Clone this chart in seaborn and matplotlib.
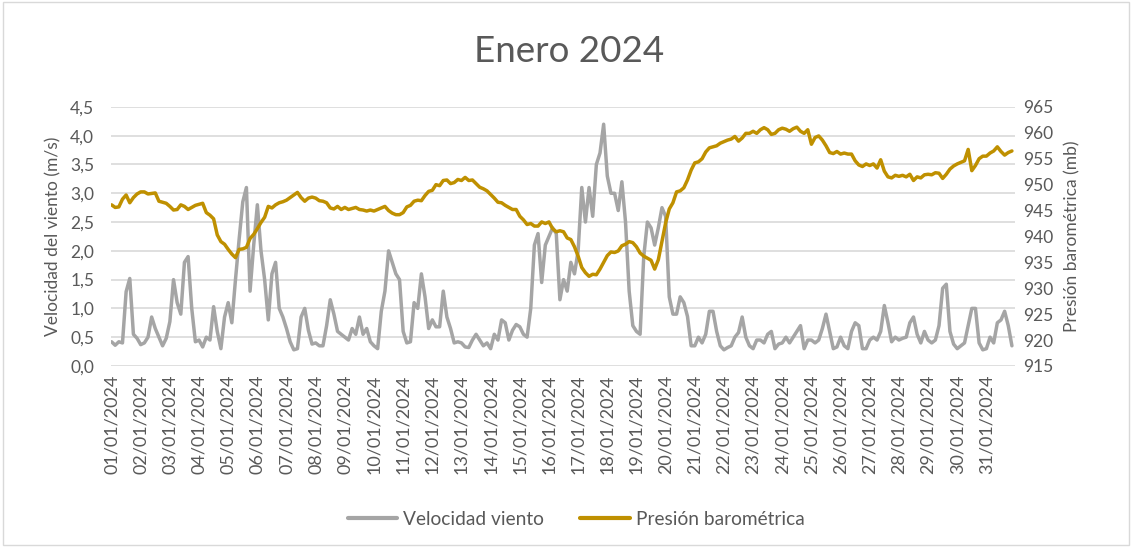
import pandas as pd
import numpy as np
import matplotlib
matplotlib.use("Agg")
import matplotlib.pyplot as plt
import seaborn as sns
from matplotlib.lines import Line2D
from matplotlib.patches import Rectangle
from matplotlib.ticker import FuncFormatter, MultipleLocator

# lecturas cada 3 horas, enero 2024 (8 por día)
viento = [
    0.42, 0.36, 0.42, 0.40, 1.29, 1.52, 0.55, 0.48,   # 01
    0.37, 0.40, 0.50, 0.85, 0.65, 0.50, 0.35, 0.48,   # 02
    0.77, 1.50, 1.10, 0.90, 1.80, 1.90, 1.00, 0.42,   # 03
    0.45, 0.33, 0.50, 0.45, 1.03, 0.60, 0.30, 0.85,   # 04
    1.10, 0.75, 1.50, 2.20, 2.85, 3.10, 1.30, 2.10,   # 05
    2.80, 2.00, 1.50, 0.80, 1.60, 1.80, 1.00, 0.85,   # 06
    0.65, 0.42, 0.28, 0.30, 0.85, 1.00, 0.62, 0.38,   # 07
    0.40, 0.35, 0.35, 0.70, 1.15, 0.90, 0.60, 0.55,   # 08
    0.50, 0.45, 0.65, 0.55, 0.85, 0.55, 0.65, 0.42,   # 09
    0.35, 0.30, 0.95, 1.30, 2.00, 1.80, 1.60, 1.50,   # 10
    0.60, 0.40, 0.42, 1.10, 1.00, 1.60, 1.20, 0.65,   # 11
    0.80, 0.68, 0.68, 1.30, 0.85, 0.65, 0.40, 0.42,   # 12
    0.40, 0.33, 0.32, 0.45, 0.55, 0.45, 0.35, 0.40,   # 13
    0.30, 0.55, 0.45, 0.80, 0.75, 0.45, 0.62, 0.72,   # 14
    0.68, 0.55, 0.50, 1.00, 2.10, 2.30, 1.45, 2.10,   # 15
    2.25, 2.40, 2.30, 1.15, 1.50, 1.30, 1.80, 1.60,   # 16
    2.00, 3.10, 2.50, 3.10, 2.60, 3.50, 3.70, 4.20,   # 17
    3.30, 3.00, 3.00, 2.70, 3.20, 2.50, 1.30, 0.70,   # 18
    0.60, 0.55, 1.90, 2.50, 2.40, 2.10, 2.40, 2.75,   # 19
    2.60, 1.20, 0.90, 0.90, 1.20, 1.10, 0.86, 0.35,   # 20
    0.35, 0.50, 0.40, 0.55, 0.95, 0.95, 0.60, 0.35,   # 21
    0.28, 0.32, 0.35, 0.50, 0.58, 0.85, 0.50, 0.35,   # 22
    0.30, 0.45, 0.45, 0.40, 0.55, 0.60, 0.30, 0.38,   # 23
    0.40, 0.50, 0.40, 0.50, 0.60, 0.70, 0.30, 0.45,   # 24
    0.45, 0.40, 0.45, 0.65, 0.90, 0.60, 0.30, 0.33,   # 25
    0.50, 0.35, 0.30, 0.60, 0.75, 0.70, 0.30, 0.30,   # 26
    0.45, 0.50, 0.45, 0.60, 1.05, 0.75, 0.42, 0.50,   # 27
    0.45, 0.48, 0.50, 0.75, 0.85, 0.55, 0.40, 0.60,   # 28
    0.45, 0.40, 0.45, 0.70, 1.35, 1.42, 0.60, 0.38,   # 29
    0.30, 0.35, 0.40, 0.70, 1.00, 1.00, 0.40, 0.28,   # 30
    0.30, 0.50, 0.40, 0.75, 0.80, 0.95, 0.70, 0.35,   # 31
]

presion = [
    946.1, 945.6, 945.7, 947.2, 948.0, 946.5, 947.5, 948.2,   # 01
    948.6, 948.6, 948.2, 948.3, 948.4, 946.8, 946.6, 946.4,   # 02
    945.8, 945.1, 945.2, 946.1, 945.8, 945.2, 945.6, 946.0,   # 03
    946.2, 946.4, 944.6, 944.1, 943.4, 940.3, 939.0, 938.5,   # 04
    937.5, 936.6, 935.9, 937.5, 937.6, 937.9, 939.6, 940.4,   # 05
    941.5, 942.7, 943.7, 945.8, 945.5, 946.1, 946.5, 946.7,   # 06
    947.0, 947.5, 948.0, 948.5, 947.5, 946.8, 947.4, 947.6,   # 07
    947.4, 946.9, 946.8, 946.5, 945.5, 945.3, 945.8, 945.2,   # 08
    945.6, 945.2, 945.4, 945.6, 945.2, 945.1, 944.9, 945.1,   # 09
    944.9, 945.2, 945.5, 945.8, 945.0, 944.5, 944.2, 944.2,   # 10
    944.6, 945.7, 946.0, 946.8, 947.0, 946.9, 947.9, 948.7,   # 11
    948.9, 950.0, 949.8, 950.8, 950.9, 950.2, 950.4, 951.0,   # 12
    950.8, 951.4, 950.8, 950.9, 950.2, 949.5, 949.2, 948.8,   # 13
    948.1, 947.4, 946.6, 946.5, 946.0, 945.6, 945.2, 945.2,   # 14
    943.9, 943.2, 942.3, 942.5, 942.0, 942.0, 942.8, 942.5,   # 15
    942.8, 941.5, 940.9, 941.1, 940.9, 939.7, 939.4, 938.0,   # 16
    936.2, 934.0, 933.0, 932.3, 932.7, 932.6, 933.7, 935.0,   # 17
    936.3, 937.0, 936.9, 937.2, 938.2, 938.5, 939.0, 938.8,   # 18
    938.0, 936.8, 936.2, 935.8, 935.4, 933.7, 935.5, 939.0,   # 19
    942.6, 945.3, 946.5, 948.6, 948.8, 949.4, 950.9, 952.8,   # 20
    954.2, 954.4, 955.0, 956.3, 957.1, 957.3, 957.5, 958.0,   # 21
    958.3, 958.6, 958.8, 959.3, 958.4, 959.0, 959.9, 959.9,   # 22
    960.3, 959.9, 960.6, 961.0, 960.6, 959.7, 959.9, 960.6,   # 23
    960.9, 960.7, 960.3, 960.8, 961.1, 960.3, 959.9, 960.6,   # 24
    957.8, 959.1, 959.4, 958.6, 957.5, 956.2, 956.0, 956.4,   # 25
    955.9, 956.1, 955.9, 955.9, 954.6, 953.8, 953.5, 954.0,   # 26
    953.7, 954.0, 953.2, 954.8, 952.6, 951.5, 951.3, 951.8,   # 27
    951.6, 951.8, 951.5, 952.0, 950.8, 951.5, 951.3, 951.9,   # 28
    952.0, 951.9, 952.3, 952.2, 951.2, 952.0, 953.0, 953.6,   # 29
    954.0, 954.3, 954.6, 956.8, 952.7, 953.7, 955.0, 955.5,   # 30
    955.5, 956.1, 956.5, 957.3, 956.4, 955.7, 956.2, 956.5,   # 31
]

dias = [f"{d:02d}/01/2024" for d in range(1, 32)]

horas = np.arange(len(viento)) * 3
df = pd.DataFrame({"hora": horas, "viento": viento, "presion": presion})

gris = "#a5a5a5"
dorado = "#bf9000"
texto = "#595959"

sns.set_theme(style="white")
plt.rcParams["font.family"] = ["Lato", "DejaVu Sans"]

fig = plt.figure(figsize=(11.32, 5.47), dpi=100)
ax = fig.add_axes([0.098, 0.331, 0.7986, 0.4735])
ax2 = ax.twinx()

sns.lineplot(data=df, x="hora", y="viento", ax=ax, color=gris, linewidth=2.5)
sns.lineplot(data=df, x="hora", y="presion", ax=ax2, color=dorado, linewidth=2.5)

ax.set_xlim(-0.5, 743.5)
ax.set_ylim(0, 4.5)
ax2.set_ylim(915, 965)
ax.yaxis.set_major_locator(MultipleLocator(0.5))
ax2.yaxis.set_major_locator(MultipleLocator(5))
ax.yaxis.set_major_formatter(FuncFormatter(lambda v, p: f"{v:.1f}".replace(".", ",")))

ax.set_xticks(np.arange(31) * 24)
ax.set_xticklabels(dias, rotation=90, fontsize=13, color=texto)
ax.tick_params(axis="y", labelsize=12.5, labelcolor=texto, length=0, pad=12)
ax2.tick_params(axis="y", labelsize=12.5, labelcolor=texto, length=0, pad=6)
ax.tick_params(axis="x", length=0, pad=6)

ax.grid(axis="y", color="#d9d9d9", linewidth=1.2)
ax.grid(axis="x", visible=False)
for a in (ax, ax2):
    for s in a.spines.values():
        s.set_visible(False)

ax.set_xlabel("")
ax.set_ylabel("Velocidad del viento (m/s)", fontsize=12.5, color=texto, labelpad=6)
ax2.set_ylabel("Presión barométrica (mb)", fontsize=12.5, color=texto, labelpad=8)

fig.suptitle("Enero 2024", x=0.503, y=0.905, va="center", fontsize=26.5, color=texto)

handles = [Line2D([], [], color=gris, linewidth=3),
           Line2D([], [], color=dorado, linewidth=3)]
fig.legend(handles, ["Velocidad viento", "Presión barométrica"],
           loc="center", bbox_to_anchor=(0.509, 0.05), ncol=2, frameon=False,
           fontsize=13.8, labelcolor=texto, handlelength=2.6, handletextpad=0.3,
           columnspacing=1.9)

fig.patches.append(Rectangle((0.003, 0.003), 0.994, 0.994, transform=fig.transFigure,
                             fill=False, edgecolor="#d9d9d9", linewidth=1))

fig.savefig("out.png", dpi=100)
